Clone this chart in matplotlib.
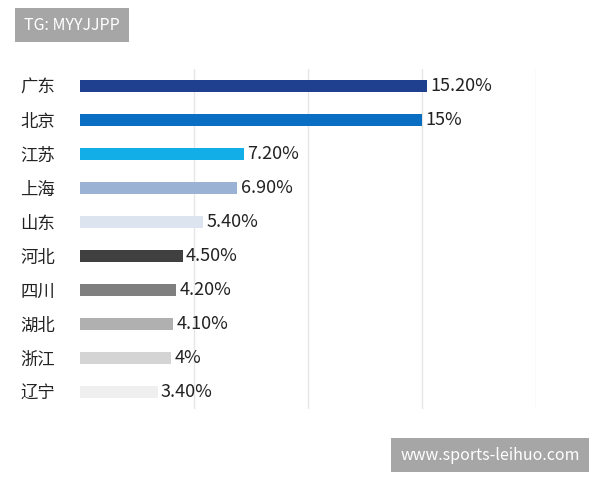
import matplotlib
matplotlib.use("Agg")
import matplotlib.pyplot as plt

plt.rcParams['font.family'] = ['Noto Sans CJK SC', 'DejaVu Sans']

categories = ["广东", "北京", "江苏", "上海", "山东", "河北", "四川", "湖北", "浙江", "辽宁"]
values = [15.2, 15.0, 7.2, 6.9, 5.4, 4.5, 4.2, 4.1, 4.0, 3.4]
labels = ["15.20%", "15%", "7.20%", "6.90%", "5.40%", "4.50%", "4.20%", "4.10%", "4%", "3.40%"]
colors = ["#1f3f8f", "#0a6fc2", "#12aee8", "#9ab3d5", "#dce4ef",
          "#404040", "#7f7f7f", "#b0b0b0", "#d4d4d4", "#efefef"]

fig = plt.figure(figsize=(6, 4.8), dpi=100)
ax = fig.add_axes([80/600, 1-409/480, (536-80)/600, 340/480])
y = list(range(len(categories)))
ax.barh(y, values, height=0.38, color=colors, zorder=2)
ax.set_ylim(len(categories)-0.5, -0.5)
ax.set_xlim(0, 20)
ax.set_xticks([5, 10, 15, 20])
ax.grid(axis='x', color='#e6e6e6', linewidth=1, zorder=0)
ax.tick_params(axis='x', length=0, labelbottom=False)
ax.tick_params(axis='y', length=0, pad=18)
ax.set_yticks(y)
ax.set_yticklabels(categories, fontsize=12.5, color='#222222')
for s in ax.spines.values():
    s.set_visible(False)
for yi, v, l in zip(y, values, labels):
    ax.text(v + 0.15, yi, l, va='center', ha='left', fontsize=13, color='#222222')

fig.text(72/600, 1-25/480, "TG: MYYJJPP", fontsize=11.5, color='white', va='center', ha='center',
         bbox=dict(boxstyle='square,pad=0.55', fc='#a6a6a6', ec='none'))
fig.text(490/600, 1-455/480, "www.sports-leihuo.com", fontsize=11.5, color='white', va='center', ha='center',
         bbox=dict(boxstyle='square,pad=0.55', fc='#a6a6a6', ec='none'))
fig.savefig("out.png", dpi=100)
